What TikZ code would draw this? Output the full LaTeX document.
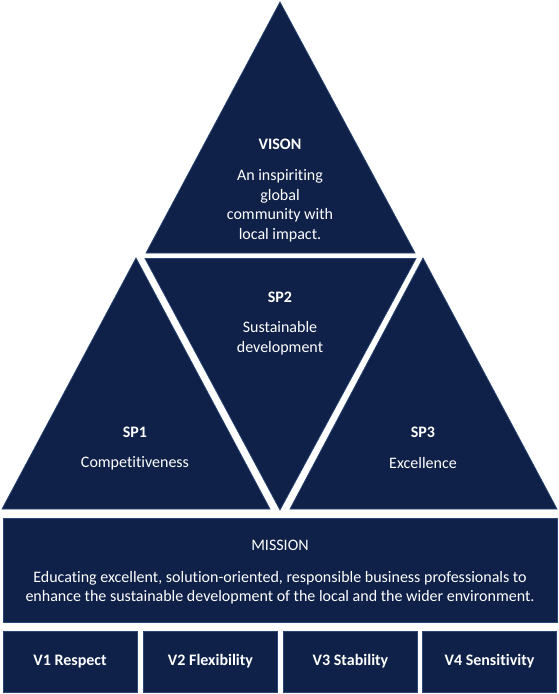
\documentclass[tikz,border=0pt]{standalone}
\usepackage{fontspec}
\setmainfont{Carlito}[Ligatures={NoCommon}]
\definecolor{navy}{HTML}{0F2148}
\definecolor{navyedge}{HTML}{2A4674}
\tikzset{
  shapefill/.style={fill=navy, draw=navyedge, line width=0.7pt, line join=miter},
  boxnode/.style={shapefill, rectangle, inner sep=0pt, minimum height=61pt, minimum width=134pt,
     text=white, font=\fontsize{16}{19.5}\selectfont\bfseries},
  lbl/.style={text=white, align=center, inner sep=0pt, font=\fontsize{16}{19.5}\selectfont},
  lblb/.style={lbl, font=\fontsize{16}{19.5}\selectfont\bfseries}
}
\begin{document}
\begin{tikzpicture}[x=1pt,y=-1pt]
\useasboundingbox[fill=white] (0,0) rectangle (559,694);
% triangles
\fill[shapefill] (280,2) -- (415,253) -- (146,253) -- cycle;
\fill[shapefill] (145,258.5) -- (416,258.5) -- (280,510) -- cycle;
\fill[shapefill] (136,258) -- (270,509) -- (2,509) -- cycle;
\fill[shapefill] (423,258) -- (557,509) -- (290,509) -- cycle;
% vision
\node[lblb] (vt) at (280,144) {VISON};
\node[lbl] (vb) at (280,206) {An inspiriting\\global\\community with\\local impact.};
% sp2
\node[lblb] (s2t) at (280,297) {SP2};
\node[lbl] (s2b) at (280,338) {Sustainable\\development};
% sp1
\node[lblb] (s1t) at (135,432) {SP1};
\node[lbl] (s1b) at (135,463) {Competitiveness};
% sp3
\node[lblb] (s3t) at (423,432) {SP3};
\node[lbl] (s3b) at (423,463) {Excellence};
% mission
\node[shapefill, rectangle, minimum width=554pt, minimum height=104pt, inner sep=0pt] (mbox) at (280,570) {};
\node[lbl] (mt) at (280,545) {MISSION};
\node[lbl] (mb) at (280,587.5) {Educating excellent, solution-oriented, responsible business professionals to\\enhance the sustainable development of the local and the wider environment.};
% values
\node[boxnode] (v1) at (70,661.5) {V1 Respect};
\node[boxnode] (v2) at (210.5,661.5) {V2 Flexibility};
\node[boxnode] (v3) at (350.5,661.5) {V3 Stability};
\node[boxnode] (v4) at (489.5,661.5) {V4 Sensitivity};
\end{tikzpicture}
\end{document}
